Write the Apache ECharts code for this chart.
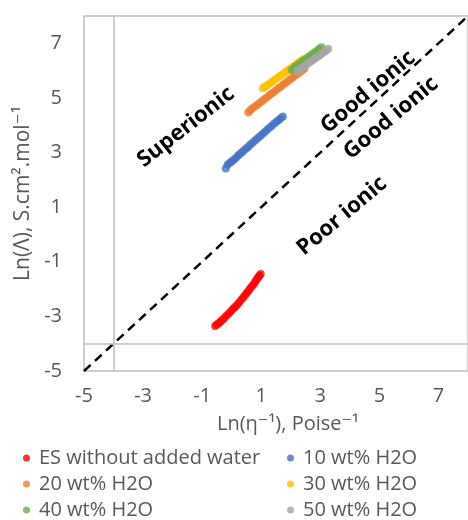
<!DOCTYPE html>
<html>
<head>
<meta charset="utf-8">
<script src="https://cdn.jsdelivr.net/npm/echarts@6/dist/echarts.min.js"></script>
<style>
  html, body { margin: 0; padding: 0; background: #fff; }
  #chart { width: 468px; height: 520px; }
</style>
</head>
<body>
<div id="chart"></div>
<script>
// Walden plot: Ln(molar conductivity) vs Ln(fluidity) for the eutectic solvent with added water
const seriesNames = [
  'ES without added water', '10 wt% H2O', '20 wt% H2O',
  '30 wt% H2O', '40 wt% H2O', '50 wt% H2O'
];
const seriesColors = ['#ff0000', '#4472c4', '#ed7d31', '#ffc000', '#70ad47', '#a5a5a5'];

const esX = [-0.56,-0.50,-0.44,-0.38,-0.31,-0.24,-0.17,-0.10,-0.03,0.04,0.11,0.18,0.25,0.32,0.39,0.45,0.51,0.57,0.63,0.69,0.75,0.80,0.85,0.90,0.94,0.98];
const esY = [-3.35,-3.30,-3.25,-3.19,-3.12,-3.05,-2.97,-2.89,-2.81,-2.73,-2.66,-2.58,-2.49,-2.40,-2.31,-2.23,-2.14,-2.06,-1.97,-1.89,-1.81,-1.72,-1.64,-1.57,-1.51,-1.45];

const w10X = [-0.20,-0.14,-0.07,0.00,0.07,0.14,0.21,0.28,0.35,0.42,0.50,0.57,0.64,0.72,0.80,0.88,0.96,1.04,1.12,1.20,1.28,1.36,1.44,1.52,1.59,1.66,1.73];
const w10Y = [2.42,2.55,2.62,2.67,2.74,2.80,2.88,2.95,3.01,3.08,3.16,3.22,3.30,3.37,3.45,3.52,3.60,3.68,3.75,3.83,3.91,3.98,4.06,4.13,4.19,4.26,4.32];

const w20X = [0.56,0.63,0.70,0.78,0.86,0.94,1.02,1.10,1.18,1.26,1.34,1.42,1.50,1.58,1.66,1.74,1.82,1.90,1.98,2.06,2.14,2.22,2.30,2.38,2.46];
const w20Y = [4.47,4.55,4.62,4.68,4.74,4.81,4.88,4.95,5.01,5.08,5.15,5.21,5.28,5.35,5.41,5.48,5.55,5.61,5.68,5.74,5.81,5.87,5.94,6.00,6.07];

const w30X = [1.05,1.11,1.17,1.24,1.31,1.38,1.45,1.52,1.59,1.66,1.73,1.80,1.87,1.94,2.01,2.08,2.15,2.22,2.29,2.36,2.43];
const w30Y = [5.35,5.40,5.44,5.49,5.55,5.60,5.66,5.71,5.77,5.82,5.87,5.93,5.98,6.04,6.09,6.15,6.20,6.26,6.31,6.37,6.42];

const w40X = [2.03,2.09,2.15,2.21,2.27,2.34,2.41,2.48,2.55,2.62,2.69,2.76,2.83,2.90,2.97,3.04];
const w40Y = [6.02,6.08,6.13,6.18,6.23,6.29,6.35,6.40,6.46,6.52,6.57,6.63,6.68,6.74,6.80,6.86];

const w50X = [2.22,2.29,2.36,2.43,2.50,2.57,2.64,2.71,2.78,2.85,2.92,2.99,3.06,3.13,3.20,3.27];
const w50Y = [5.98,6.04,6.09,6.14,6.20,6.25,6.31,6.36,6.41,6.47,6.52,6.57,6.63,6.68,6.74,6.80];

// ideal KCl line (slope 1) and the axis crossing value
const idealLine = [[-5, -5], [8, 8]];
const axisCross = -4;

const xs = [esX, w10X, w20X, w30X, w40X, w50X];
const ys = [esY, w10Y, w20Y, w30Y, w40Y, w50Y];

const FONT = '"Open Sans", "DejaVu Sans", sans-serif';
const GREY_TEXT = '#595959';
const FRAME = '#bfbfbf';

const pairs = (a, b) => a.map((v, i) => [v, b[i]]);

const scatterSeries = seriesNames.map((name, k) => ({
  name: name,
  type: 'scatter',
  symbol: 'circle',
  symbolSize: 8,
  itemStyle: { color: seriesColors[k] },
  data: pairs(xs[k], ys[k]),
  z: 5 + k
}));

const chart = echarts.init(document.getElementById('chart'), null, { renderer: 'canvas' });

// one legend entry per slot: two columns, three rows
const legendCols = [18, 282];
const legendRows = [443, 469, 495];
const legends = seriesNames.map((name, k) => ({
  left: legendCols[k % 2],
  top: legendRows[Math.floor(k / 2)],
  data: [name],
  icon: 'circle',
  itemWidth: 7,
  itemHeight: 7,
  textStyle: { fontFamily: FONT, fontSize: 20, color: GREY_TEXT, padding: [0, 0, 0, 4] }
}));

const annotation = (text, x, y, deg) => ({
  type: 'text', x: x, y: y, rotation: deg * Math.PI / 180,
  style: { text: text, font: 'bold 22px ' + FONT, fill: '#000', align: 'center', verticalAlign: 'middle' }
});

chart.setOption({
  animation: false,
  backgroundColor: '#ffffff',
  grid: {
    left: 84, top: 16, width: 398, height: 355,
    show: true, borderColor: FRAME, borderWidth: 1.5, backgroundColor: 'transparent'
  },
  xAxis: {
    type: 'value', min: -5, max: 8, interval: 2,
    name: 'Ln(η⁻¹), Poise⁻¹',
    nameLocation: 'middle', nameGap: 43,
    nameTextStyle: { fontFamily: FONT, fontSize: 20, color: GREY_TEXT, padding: [0, 0, 0, 24] },
    axisLine: { show: false }, axisTick: { show: false }, splitLine: { show: false },
    axisLabel: { fontFamily: FONT, fontSize: 20, color: GREY_TEXT, margin: 15, showMaxLabel: false }
  },
  yAxis: {
    type: 'value', min: -5, max: 8, interval: 2,
    name: 'Ln(Λ), S.cm².mol⁻¹',
    nameLocation: 'middle', nameGap: 37,
    nameTextStyle: { fontFamily: FONT, fontSize: 21, color: GREY_TEXT },
    axisLine: { show: false }, axisTick: { show: false }, splitLine: { show: false },
    axisLabel: { fontFamily: FONT, fontSize: 20, color: GREY_TEXT, margin: 22, showMaxLabel: false }
  },
  legend: legends,
  series: [
    {
      name: 'axes',
      type: 'line',
      data: [],
      silent: true,
      markLine: {
        silent: true,
        symbol: 'none',
        label: { show: false },
        lineStyle: { color: FRAME, width: 1.5, type: 'solid' },
        data: [{ xAxis: axisCross }, { yAxis: axisCross }]
      },
      z: 1
    },
    {
      name: 'ideal',
      type: 'line',
      data: idealLine,
      symbol: 'none',
      silent: true,
      lineStyle: { color: '#000', width: 2.5, type: [9, 6] },
      z: 2
    }
  ].concat(scatterSeries),
  graphic: [
    annotation('Superionic', 186, 127, 38),
    annotation('Good ionic', 368, 92, 40),
    annotation('Good ionic', 391, 118, 40),
    annotation('Poor ionic', 342, 216, 40)
  ]
});
</script>
</body>
</html>
